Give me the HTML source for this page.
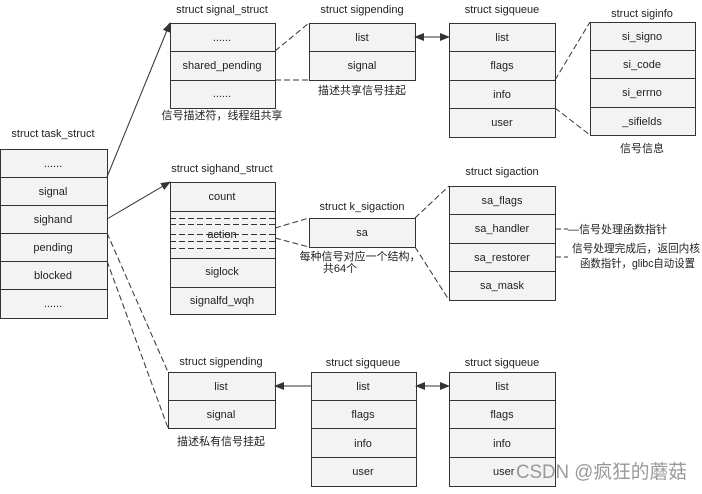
<!DOCTYPE html><html><head><meta charset="utf-8"><style>body{margin:0;background:#fff}svg text{font-family:"Liberation Sans","Noto Sans CJK SC",sans-serif;font-size:11px;fill:#222}</style></head><body>
<svg width="702" height="489" viewBox="0 0 702 489" xmlns="http://www.w3.org/2000/svg">
<defs><marker id="a" markerWidth="10" markerHeight="8" refX="9" refY="4" orient="auto" markerUnits="userSpaceOnUse"><path d="M0,0L10,4L0,8z" fill="#333"/></marker>
<marker id="b" markerWidth="10" markerHeight="8" refX="1" refY="4" orient="auto" markerUnits="userSpaceOnUse"><path d="M10,0L0,4L10,8z" fill="#333"/></marker></defs>
<g stroke="#333" fill="#f3f3f3" stroke-width="1">
<rect x="0.5" y="149.5" width="107" height="169"/><rect x="170.5" y="23.5" width="105" height="85"/><rect x="309.5" y="23.5" width="106" height="57"/><rect x="449.5" y="23.5" width="106" height="114"/><rect x="590.5" y="22.5" width="105" height="113"/><rect x="170.5" y="182.5" width="105" height="132"/><rect x="309.5" y="218.5" width="106" height="29"/><rect x="449.5" y="186.5" width="106" height="114"/><rect x="168.5" y="372.5" width="107" height="56"/><rect x="311.5" y="372.5" width="105" height="114"/><rect x="449.5" y="372.5" width="106" height="114"/>
</g>
<g stroke="#333" stroke-width="1">
<path d="M0 177.5H107M0 205.5H107M0 233.5H107M0 261.5H107M0 289.5H107"/>
<path d="M170 51.5H275M170 80.5H275M309 51.5H415M449 51.5H555M449 80.5H555M449 108.5H555"/>
<path d="M590 50.5H695M590 78.5H695M590 107.5H695"/>
<path d="M170 211.5H275M170 258.5H275M170 287.5H275"/>
<path d="M449 214.5H555M449 243.5H555M449 271.5H555"/>
<path d="M168 400.5H275M311 400.5H416M311 428.5H416M311 457.5H416M449 400.5H555M449 428.5H555M449 457.5H555"/>
</g>
<g stroke="#333" stroke-dasharray="6,3" fill="none">
<path d="M170 218.5H275M170 224.5H275M170 234.5H275M170 241.5H275M170 248.5H275"/>
<path d="M275 51L309 23M275 80L309 80M555 80L590 22M555 108L590 135M275 228L309 218M275 238L309 247M415 218L449 186M415 247L449 300M107 233L168 372M107 261L168 428M555 229H568M555 257H568"/>
</g>
<g stroke="#333" fill="none">
<path d="M107 177L170 23" marker-end="url(#a)"/>
<path d="M107 219L170 182" marker-end="url(#a)"/>
<path d="M415 37H449" marker-start="url(#b)" marker-end="url(#a)"/>
<path d="M311 386H275" marker-end="url(#a)"/>
<path d="M416 386H449" marker-start="url(#b)" marker-end="url(#a)"/>
</g>
<g text-anchor="middle">
<text x="53" y="137">struct task_struct</text>
<text x="53" y="167">......</text><text x="53" y="195">signal</text><text x="53" y="223">sighand</text><text x="53" y="251">pending</text><text x="53" y="279">blocked</text><text x="53" y="307">......</text>
<text x="222" y="13">struct signal_struct</text>
<text x="222" y="41">......</text><text x="222" y="69">shared_pending</text><text x="222" y="97">......</text>
<text x="222" y="119" fill="#555">信号描述符，线程组共享</text>
<text x="362" y="13">struct sigpending</text><text x="362" y="41">list</text><text x="362" y="69">signal</text>
<text x="362" y="94">描述共享信号挂起</text>
<text x="502" y="13">struct sigqueue</text><text x="502" y="41">list</text><text x="502" y="69">flags</text><text x="502" y="98">info</text><text x="502" y="126">user</text>
<text x="642" y="17">struct siginfo</text><text x="642" y="40">si_signo</text><text x="642" y="68">si_code</text><text x="642" y="96">si_errno</text><text x="642" y="125">_sifields</text>
<text x="642" y="152">信号信息</text>
<text x="222" y="172">struct sighand_struct</text><text x="222" y="200">count</text><text x="222" y="238">action</text><text x="222" y="275">siglock</text><text x="222" y="304">signalfd_wqh</text>
<text x="362" y="210">struct k_sigaction</text><text x="362" y="236">sa</text>
<text x="360" y="260">每种信号对应一个结构，</text><text x="340" y="272">共64个</text>
<text x="502" y="175">struct sigaction</text><text x="502" y="204">sa_flags</text><text x="502" y="232">sa_handler</text><text x="502" y="261">sa_restorer</text><text x="502" y="289">sa_mask</text>
<text x="221" y="365">struct sigpending</text><text x="221" y="390">list</text><text x="221" y="418">signal</text>
<text x="221" y="445">描述私有信号挂起</text>
<text x="363" y="366">struct sigqueue</text><text x="363" y="390">list</text><text x="363" y="418">flags</text><text x="363" y="447">info</text><text x="363" y="475">user</text>
<text x="502" y="366">struct sigqueue</text><text x="502" y="390">list</text><text x="502" y="418">flags</text><text x="502" y="447">info</text>
</g>
<text x="493" y="475">user</text>
<text x="568" y="233">—信号处理函数指针</text>
<text x="572" y="252" textLength="128" lengthAdjust="spacingAndGlyphs">信号处理完成后，返回内核</text>
<text x="580" y="267" textLength="115" lengthAdjust="spacingAndGlyphs">函数指针，glibc自动设置</text>
<text x="516" y="478" textLength="171" lengthAdjust="spacingAndGlyphs" style="font-size:19px;fill:#999">CSDN @疯狂的蘑菇</text>
</svg></body></html>
